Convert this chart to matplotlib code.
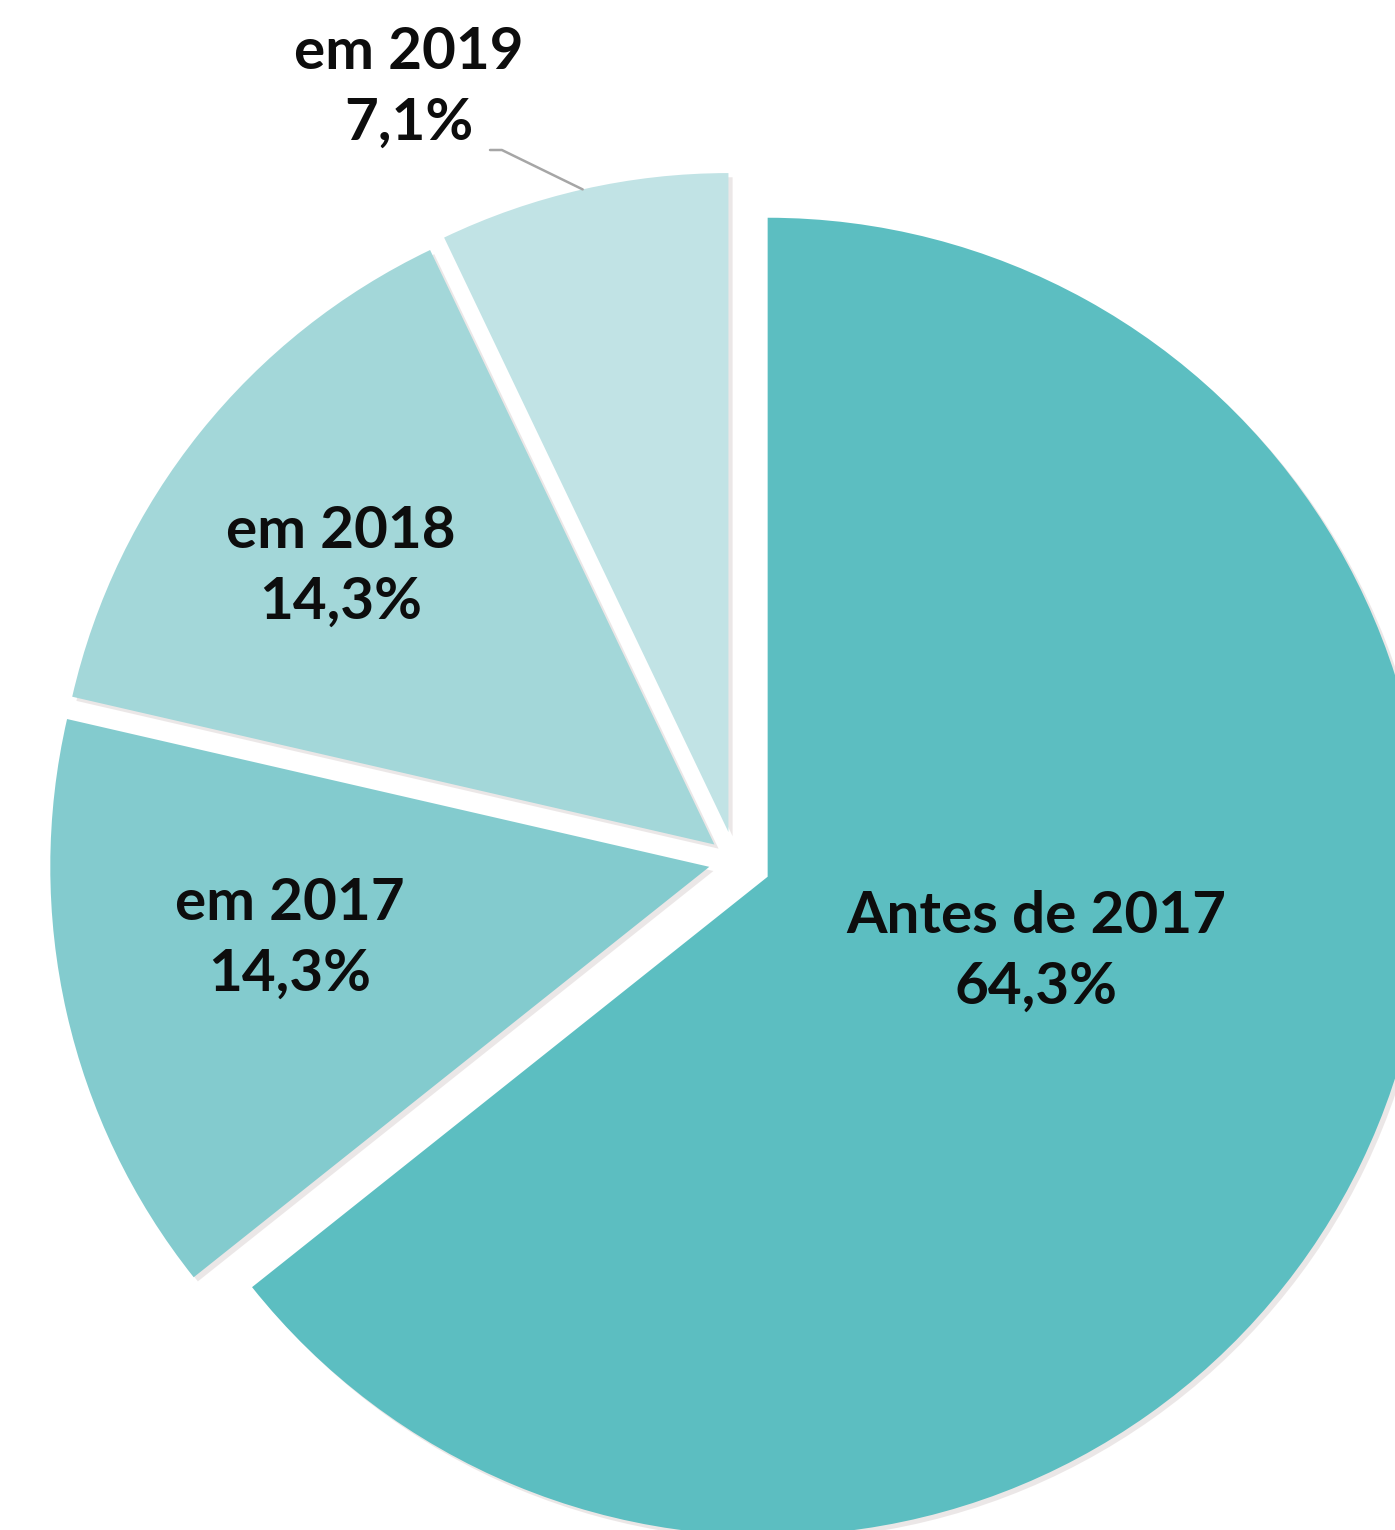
import matplotlib
matplotlib.use("Agg")
import matplotlib.pyplot as plt
import matplotlib.patheffects as pe
import numpy as np

# data
labels = ["Antes de 2017", "em 2017", "em 2018", "em 2019"]
values = [64.3, 14.3, 14.3, 7.1]
pct_text = ["64,3%", "14,3%", "14,3%", "7,1%"]
colors = ["#5cbec1", "#83cbce", "#a3d7d9", "#c1e3e5"]
explode = [0.055, 0.04, 0.04, 0.045]   # fraction of radius

W, H = 1395, 1530
fig = plt.figure(figsize=(W / 100, H / 100), dpi=100)
ax = fig.add_axes([0, 0, 1, 1])

R = 659
center = (735, H - 861)

# pie offsets wedges by explode in data units, so scale by the radius
wedges, _ = ax.pie(values, colors=colors, explode=[e * R for e in explode],
                   startangle=90, counterclock=False, radius=R, center=center,
                   frame=True, wedgeprops=dict(linewidth=0))
for w in wedges:
    w.set_path_effects([pe.SimplePatchShadow(offset=(3, -3), shadow_rgbFace="#d8d0d0", alpha=0.5),
                        pe.Normal()])

ax.set_xlim(0, W)
ax.set_ylim(0, H)
ax.set_aspect("equal")
ax.axis("off")

font = dict(family=["Lato", "DejaVu Sans"], fontweight="bold", fontsize=42,
            color="#0d0d0d", ha="center", va="center", linespacing=1.42)

# label spots (pixels from top-left of the picture)
label_pos = [(1036, 952), (290, 939), (341, 567), (409, 88)]
for lab, pct, (px, py) in zip(labels, pct_text, label_pos):
    ax.text(px, H - py, lab + "\n" + pct, **font)

# leader line to the small slice
w = wedges[3]
mid = np.deg2rad((w.theta1 + w.theta2) / 2)
tip = (w.center[0] + w.r * np.cos(mid), w.center[1] + w.r * np.sin(mid))
ax.annotate("", xy=tip, xytext=(490, H - 150),
            arrowprops=dict(arrowstyle="-", color="#a6a6a6", lw=1.8,
                            shrinkA=0, shrinkB=0,
                            connectionstyle="angle,angleA=0,angleB=-26,rad=0"))

fig.savefig("out.png", dpi=100, facecolor="white")
